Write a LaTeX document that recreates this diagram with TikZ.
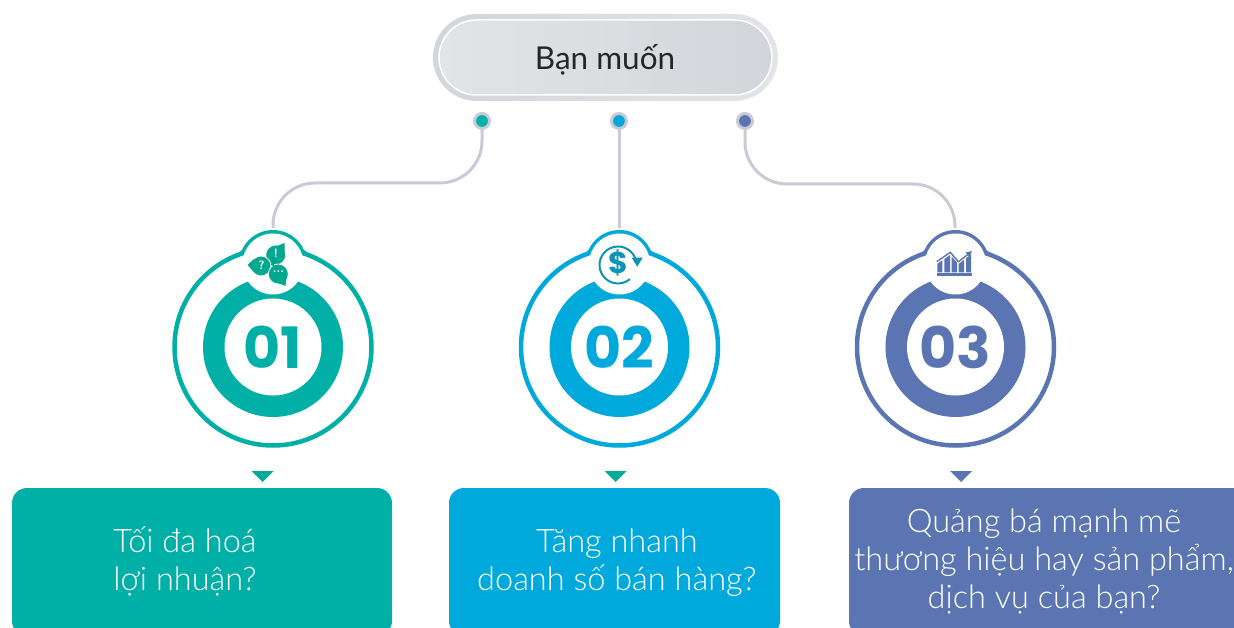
\documentclass[tikz,border=0pt]{standalone}
\usepackage{fontspec}
\setmainfont{Lato}
\newfontfamily\lightfont{Lato Light}
\newfontfamily\numfont{Poppins}
\definecolor{tealc}{HTML}{00B0A6}
\definecolor{bluec}{HTML}{00A9DC}
\definecolor{indigoc}{HTML}{5A75B2}
\definecolor{linkc}{HTML}{C9CAD5}
\definecolor{iconone}{HTML}{00A88F}
\definecolor{icontwo}{HTML}{0E93B6}
\definecolor{paleg}{HTML}{E3E4E7}
\definecolor{darkg}{HTML}{D3D5DA}
\tikzset{
  link/.style={draw=linkc,line width=3pt,rounded corners=42pt},
  dotmark/.style={circle,draw=linkc,line width=3pt,minimum size=15pt,inner sep=0pt},
  label/.style={font=\lightfont\fontsize{32.5}{38}\selectfont,align=center,text=white,inner sep=0pt},
  answerbox/.style={rounded corners=15pt,minimum height=148pt,inner sep=0pt},
  bubble/.style={fill=iconone,draw=white,line width=0.8pt},
  bubbletext/.style={text=white,font=\sffamily\bfseries\fontsize{12}{12}\selectfont,inner sep=0pt}
}
\begin{document}
\begin{tikzpicture}[x=1pt,y=-1pt]
\useasboundingbox (0,0) rectangle (1234,628);
\clip (0,0) rectangle (1234,628);

% title
\node[rounded corners=43.5pt,left color=darkg,right color=paleg,minimum width=345pt,minimum height=87pt,inner sep=0pt] (titleback) at (605.5,57.5) {};
\node[rounded corners=37.5pt,draw=white,line width=1.5pt,left color=paleg,right color=darkg,minimum width=333pt,minimum height=75pt,inner sep=0pt] (title) at (605.5,57.5) {};
\node[font=\fontsize{31.5}{38}\selectfont,text=black!85,inner sep=0pt] (titletext) at (605,59.5) {Bạn muốn};

\node[dotmark,fill=tealc] (dotone) at (482,121) {};
\node[dotmark,fill=bluec] (dottwo) at (619,121) {};
\node[dotmark,fill=indigoc] (dotthree) at (745,121) {};

\coordinate (bendone) at (482,183);
\coordinate (bendthree) at (745,184);
\coordinate (topone) at (273,228);
\coordinate (toptwo) at (619,228);
\coordinate (topthree) at (955,228);
\draw[link] (dotone) -- (bendone) -| (topone);
\draw[link] (dottwo) -- (toptwo);
\draw[link] (dotthree) -- (bendthree) -| (topthree);

% rings
\foreach \name/\col/\cx/\num in {one/tealc/273/01,two/bluec/619.5/02,three/indigoc/955.5/03}{
  \node[circle,draw=\col,line width=4pt,minimum size=64pt,inner sep=0pt] (cap\name) at (\cx,264) {};
  \fill[\col,shift={(\cx,264)}] (-38,-10) .. controls (-34,-11) .. (-31,-14) -- (-31,-5) -- (-38,-5) -- cycle;
  \fill[\col,shift={(\cx,264)}] (38,-10) .. controls (34,-11) .. (31,-14) -- (31,-5) -- (38,-5) -- cycle;
  \node[circle,draw=\col,fill=white,line width=4.5pt,minimum size=197pt,inner sep=0pt] (ring\name) at (\cx,347) {};
  \node[circle,fill=\col,minimum size=140pt,inner sep=0pt] (band\name) at (\cx,347) {};
  \node[circle,fill=white,minimum size=97pt,inner sep=0pt,text=\col,font=\numfont\bfseries\fontsize{57}{57}\selectfont] (disc\name) at (\cx,347) {\num};
  \node[circle,fill=white,minimum size=61pt,inner sep=0pt] (hole\name) at (\cx,264) {};
}

% chat icon
\filldraw[bubble] (275.7,255) circle (10);
\filldraw[bubble] (261,266) circle (10);
\filldraw[bubble] (278.3,274) circle (10);
\fill[iconone] (277,246) -- (284.5,243) -- (284.5,254) -- cycle;
\fill[iconone] (254,259) -- (247.5,265) -- (254,272) -- cycle;
\fill[iconone] (278,283) -- (285.5,286) -- (287,275) -- cycle;
\fill[iconone] (270.5,264.5) -- (274,262) -- (274,267) -- cycle;
\node[bubbletext] (markbang) at (275.7,253.5) {!};
\node[bubbletext] (markask) at (261.5,265.5) {?};
\node[bubbletext] (markdots) at (278.5,272) {...};

% dollar icon
\draw[icontwo,line width=2pt] (618,265) ++(-15:18.5) arc[start angle=-15,end angle=-310,radius=18.5];
\fill[icontwo] (631.7,257.7) -- (642.7,257.7) -- (637.2,266.7) -- cycle;
\node[text=icontwo,font=\numfont\bfseries\fontsize{30}{30}\selectfont,inner sep=0pt] (dollar) at (618.3,263) {\$};

% chart icon
\fill[indigoc] (937.3,273.5) rectangle (971.7,275.7);
\foreach \xa/\xb/\ya/\yb in {937.3/942.3/263.8/260.3,944.3/950/259/255,951.7/957/256.5/262.7,958.5/964/264/259.8,966/971/258.3/254.5}{
  \fill[indigoc] (\xa,272.3) -- (\xa,\ya) -- (\xb,\yb) -- (\xb,272.3) -- cycle;
}
\draw[indigoc,line width=1.4pt] (936.7,261.7) -- (950.3,252.3) -- (958.3,261.7) -- (968,254.5);
\fill[indigoc] (972,251) -- (965.5,252.5) -- (969.5,257) -- cycle;

% arrows
\fill[iconone!60!tealc] (251.5,471) -- (273.5,471) -- (262.5,482) -- cycle;
\fill[iconone!60!tealc] (604.5,471) -- (626.5,471) -- (615.5,482) -- cycle;
\fill[indigoc] (950,471) -- (972,471) -- (961,482) -- cycle;

% boxes
\node[answerbox,fill=tealc,minimum width=380pt] (boxone) at (202,562) {};
\node[answerbox,fill=bluec,minimum width=331pt] (boxtwo) at (614.5,562) {};
\node[answerbox,fill=indigoc,minimum width=460pt] (boxthree) at (1079,562) {};
\node[label] (textone) at (185,561) {Tối đa hoá\\lợi nhuận?};
\node[label] (texttwo) at (617,563) {Tăng nhanh\\doanh số bán hàng?};
\node[label] (textthree) at (1044,561) {Quảng bá mạnh mẽ\\thương hiệu hay sản phẩm,\\dịch vụ của bạn?};

\end{tikzpicture}
\end{document}
